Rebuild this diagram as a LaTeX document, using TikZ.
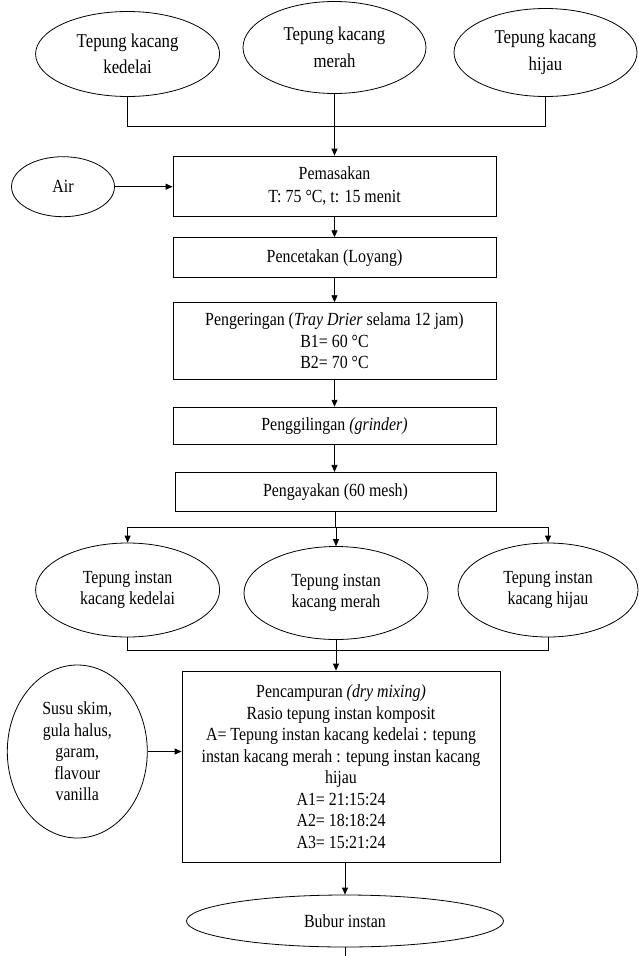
\documentclass[tikz,border=0pt]{standalone}
\usepackage{fontspec}
\setmainfont{Liberation Serif}[FakeStretch=0.86]
\usetikzlibrary{shapes.geometric,arrows.meta}
\begin{document}
\begin{tikzpicture}[x=1pt,y=-1pt,
  every node/.style={font=\fontsize{18.5pt}{21.5pt}\selectfont, align=center, inner sep=0pt},
  ell/.style={draw, ellipse, line width=0.8pt},
  bigtxt/.style={font=\fontsize{19.5pt}{22pt}\selectfont},
  box/.style={draw, rectangle, line width=0.8pt},
  ln/.style={line width=0.8pt},
  arr/.style={ln, -{Triangle[length=7pt,width=6pt]}}]
\useasboundingbox (0,0) rectangle (638,956);

% top ellipses
\node[ell, bigtxt, minimum width=184pt, minimum height=85pt] (e1) at (127.6,54) {Tepung kacang\\[4.5pt]kedelai};
\node[ell, bigtxt, minimum width=183pt, minimum height=92pt] (e2) at (334.5,47.5) {Tepung kacang\\[4.5pt]merah};
\node[ell, bigtxt, minimum width=183pt, minimum height=88pt] (e3) at (545.5,52.5) {Tepung kacang\\[4.5pt]hijau};

% process boxes
\node[box, minimum width=323pt, minimum height=60pt] (pemasakan) at (334.5,186) {Pemasakan\\[2pt]T: 75 °C, t: 15 menit};
\node[ell, minimum width=103pt, minimum height=60pt] (air) at (63,186.7) {Air};
\node[box, minimum width=323pt, minimum height=40pt] (pencetakan) at (334.5,257.7) {Pencetakan (Loyang)};
\node[box, minimum width=323pt, minimum height=76.6pt] (pengeringan) at (334.5,341) {Pengeringan (\textit{Tray Drier} selama 12 jam)\\B1= 60 °C\\B2= 70 °C};
\node[box, minimum width=323pt, minimum height=37.7pt] (penggilingan) at (334.5,426) {Penggilingan \textit{(grinder)}};
\node[box, minimum width=321pt, minimum height=39.4pt] (pengayakan) at (335.5,492) {Pengayakan (60 mesh)};

% instant flour ellipses
\node[ell, minimum width=184pt, minimum height=94pt] (i1) at (127.6,590) {Tepung instan\\kacang kedelai};
\node[ell, minimum width=184pt, minimum height=93pt] (i2) at (336,593) {Tepung instan\\kacang merah};
\node[ell, minimum width=180pt, minimum height=94pt] (i3) at (548,590) {Tepung instan\\kacang hijau};

% mixing
\node[box, minimum width=318pt, minimum height=191.3pt] (pencampuran) at (341,766.7) {Pencampuran \textit{(dry mixing)}\\Rasio tepung instan komposit\\A= Tepung instan kacang kedelai : tepung\\instan kacang merah : tepung instan kacang\\hijau\\A1= 21:15:24\\A2= 18:18:24\\A3= 15:21:24};
\node[ell, minimum width=140pt, minimum height=173pt] (susu) at (77.3,751.5) {Susu skim,\\gula halus,\\garam,\\flavour\\vanilla};
\node[ell, minimum width=317pt, minimum height=52pt] (bubur) at (345,921) {Bubur instan};

% connectors
\coordinate (jt) at (334.5,126);
\draw[ln] (e1.south) |- (jt);
\draw[ln] (e3.south) |- (jt);
\draw[arr] (e2.south) -- (pemasakan.north);
\draw[arr] (air.east) -- (air.east -| pemasakan.west);
\draw[arr] (pemasakan.south) -- (pencetakan.north);
\draw[arr] (pencetakan.south) -- (pengeringan.north);
\draw[arr] (pengeringan.south) -- (penggilingan.north);
\draw[arr] (penggilingan.south) -- (penggilingan.south |- pengayakan.north);

\coordinate (sp) at (336,527.7);
\draw[ln] (pengayakan.south) -- (pengayakan.south |- sp);
\draw[arr] (sp) -| (i1.north);
\draw[arr] (sp) -| (i3.north);
\draw[arr] (sp) -- (i2.north);

\coordinate (jb) at (336,650);
\draw[ln] (i1.south) |- (jb);
\draw[ln] (i3.south) |- (jb);
\draw[arr] (i2.south) -- (i2.south |- pencampuran.north);
\draw[arr] (susu.east) -- (susu.east -| pencampuran.west);
\draw[arr] (bubur.north |- pencampuran.south) -- (bubur.north);
\coordinate (tail) at (345,956);
\draw[ln] (bubur.south) -- (tail);
\end{tikzpicture}
\end{document}
